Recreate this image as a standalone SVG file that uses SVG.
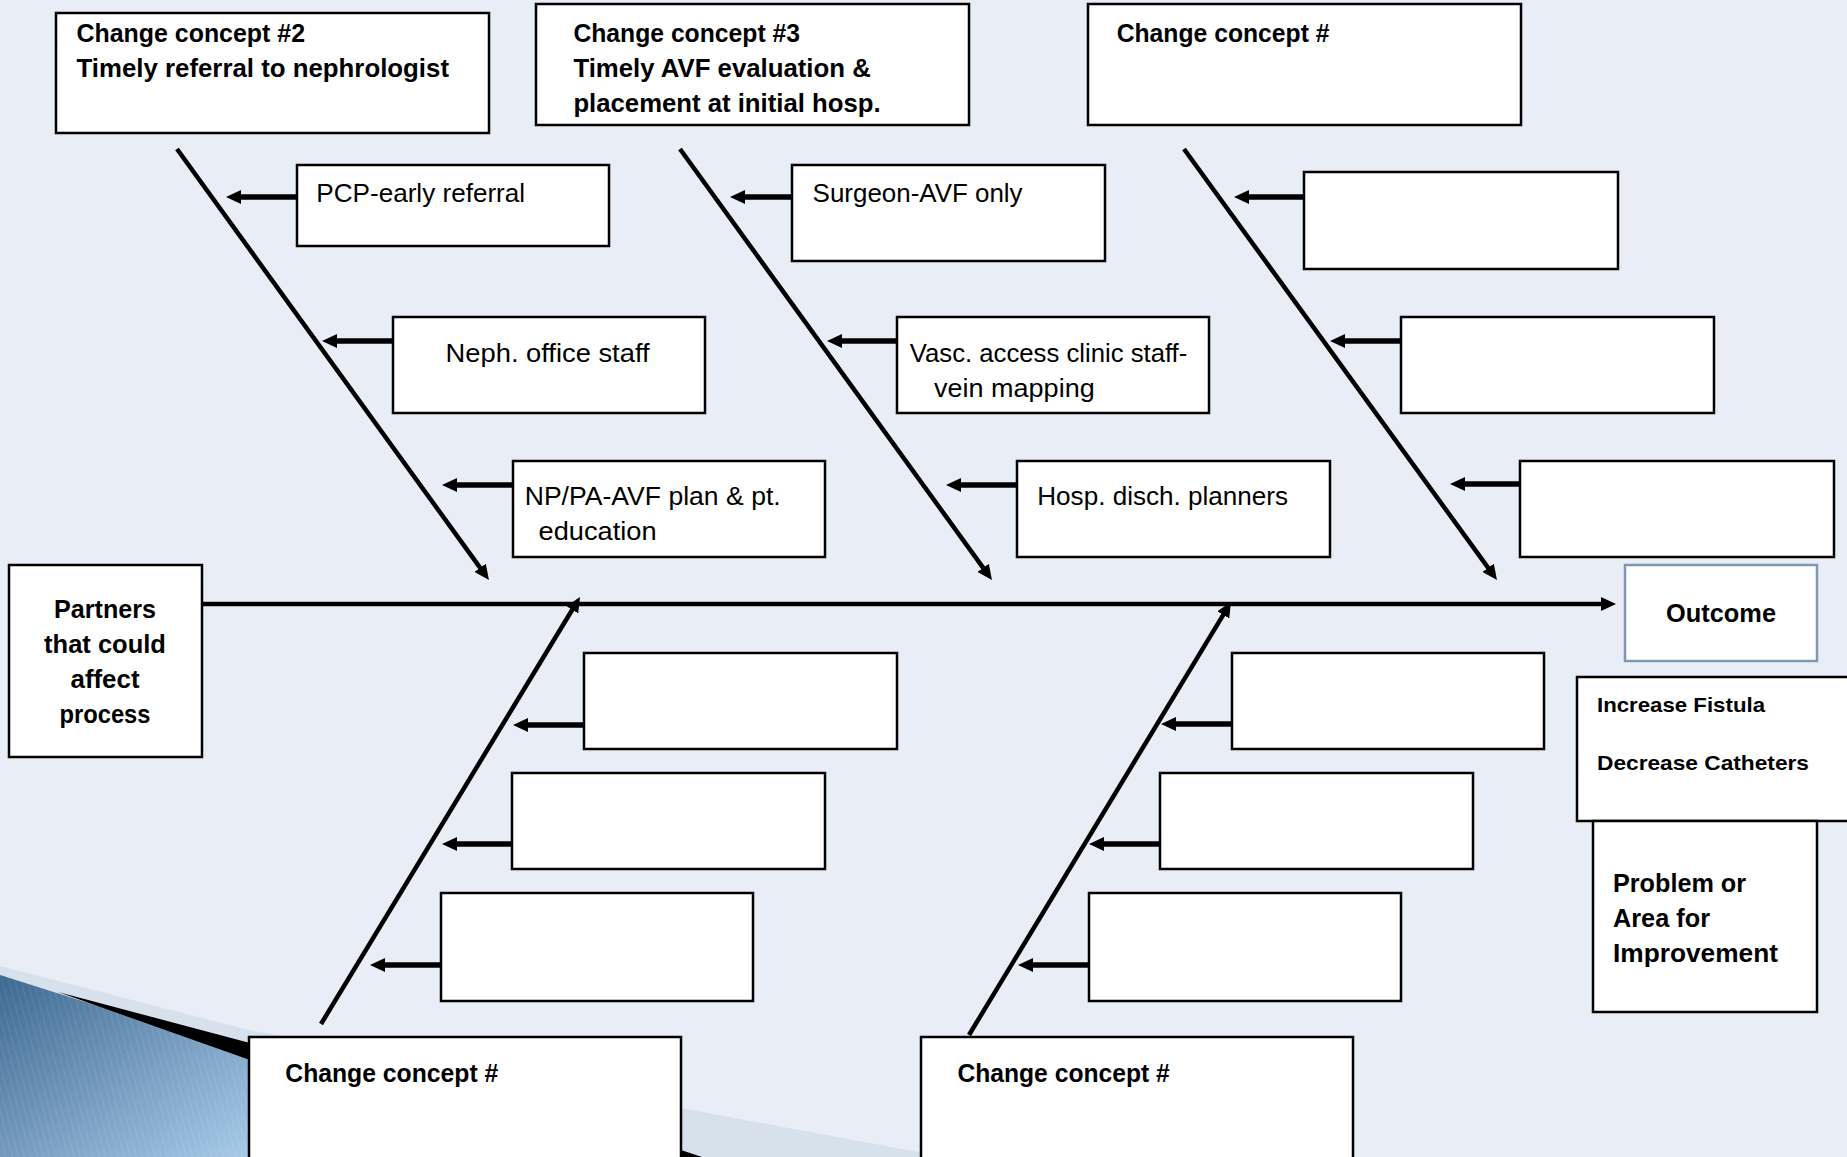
<svg xmlns="http://www.w3.org/2000/svg" width="1847" height="1157" viewBox="0 0 1847 1157">
  <defs>
    <style>
      .box { fill: #ffffff; stroke: #000000; stroke-width: 2.5; }
      .outbox { fill: #ffffff; stroke: #7E98B4; stroke-width: 2.5; }
      .t { font-family: "Liberation Sans", Arial, sans-serif; font-size: 25px; fill: #000000; }
      .b { font-weight: bold; }
      .s { font-size: 21px; }
      .bone { stroke: #000000; stroke-width: 4.5; fill: none; }
      .rib { stroke: #000000; stroke-width: 5.5; fill: none; }
    </style>
    <marker id="ah" viewBox="0 0 15 14" refX="5" refY="7" markerUnits="userSpaceOnUse" markerWidth="15" markerHeight="14" orient="auto">
      <path d="M0,0 L15,7 L0,14 z" fill="#000000"/>
    </marker>
    <linearGradient id="blueGrad" x1="0" y1="0" x2="1" y2="1">
      <stop offset="0" stop-color="#3D6890"/>
      <stop offset="1" stop-color="#A9CCEB"/>
    </linearGradient>
    <pattern id="stripes" width="6" height="20" patternUnits="userSpaceOnUse" patternTransform="rotate(-15)">
      <line x1="0" y1="0" x2="0" y2="20" stroke="#ffffff" stroke-opacity="0.18" stroke-width="1"/>
    </pattern>
  </defs>

  <rect x="0" y="0" width="1847" height="1157" fill="#E9EEF6"/>

  <!-- background decoration -->
  <g id="decoration">
    <polygon points="0,966 249,1030 681,1108 945,1157 0,1157" fill="#D6E1EC"/>
    <polygon points="0,975 262,1058 262,1157 0,1157" fill="url(#blueGrad)"/>
    <polygon points="0,975 262,1058 262,1157 0,1157" fill="url(#stripes)"/>
    <polygon points="58,992 250,1043 250,1060" fill="#000000"/>
    <polygon points="681,1150 702,1157 681,1157" fill="#000000"/>
  </g>

  <!-- connectors -->
  <g id="connectors">
    <line class="bone" x1="202" y1="604" x2="1606" y2="604" marker-end="url(#ah)"/>
    <line class="bone" x1="177" y1="149" x2="483.1" y2="571.9" marker-end="url(#ah)"/>
    <line class="bone" x1="680" y1="149" x2="986.1" y2="571.9" marker-end="url(#ah)"/>
    <line class="bone" x1="1184" y1="149" x2="1491.1" y2="571.9" marker-end="url(#ah)"/>
    <line class="bone" x1="321" y1="1024" x2="574.8" y2="605.5" marker-end="url(#ah)"/>
    <line class="bone" x1="969" y1="1035" x2="1225.8" y2="610.6" marker-end="url(#ah)"/>

    <line class="rib" x1="297" y1="197" x2="236" y2="197" marker-end="url(#ah)"/>
    <line class="rib" x1="393" y1="341" x2="332" y2="341" marker-end="url(#ah)"/>
    <line class="rib" x1="513" y1="485" x2="452" y2="485" marker-end="url(#ah)"/>
    <line class="rib" x1="792" y1="197" x2="740" y2="197" marker-end="url(#ah)"/>
    <line class="rib" x1="897" y1="341" x2="837" y2="341" marker-end="url(#ah)"/>
    <line class="rib" x1="1017" y1="485" x2="956" y2="485" marker-end="url(#ah)"/>
    <line class="rib" x1="1304" y1="197" x2="1244" y2="197" marker-end="url(#ah)"/>
    <line class="rib" x1="1401" y1="341" x2="1340" y2="341" marker-end="url(#ah)"/>
    <line class="rib" x1="1520" y1="484" x2="1460" y2="484" marker-end="url(#ah)"/>
    <line class="rib" x1="584" y1="725" x2="523" y2="725" marker-end="url(#ah)"/>
    <line class="rib" x1="512" y1="844" x2="452" y2="844" marker-end="url(#ah)"/>
    <line class="rib" x1="441" y1="965" x2="380" y2="965" marker-end="url(#ah)"/>
    <line class="rib" x1="1232" y1="724" x2="1171" y2="724" marker-end="url(#ah)"/>
    <line class="rib" x1="1160" y1="844" x2="1099" y2="844" marker-end="url(#ah)"/>
    <line class="rib" x1="1089" y1="965" x2="1028" y2="965" marker-end="url(#ah)"/>
  </g>

  <!-- top change concepts -->
  <g id="cc2">
    <rect class="box" x="56" y="13" width="433" height="120"/>
    <text class="t b" x="76.5" y="42" textLength="228.5" lengthAdjust="spacingAndGlyphs">Change concept #2</text>
    <text class="t b" x="76.5" y="77" textLength="372.5" lengthAdjust="spacingAndGlyphs">Timely referral to nephrologist</text>
  </g>
  <g id="cc3">
    <rect class="box" x="536" y="4" width="433" height="121"/>
    <text class="t b" x="573.4" y="42" textLength="226.6" lengthAdjust="spacingAndGlyphs">Change concept #3</text>
    <text class="t b" x="573.4" y="77" textLength="297.4" lengthAdjust="spacingAndGlyphs">Timely AVF evaluation &amp;</text>
    <text class="t b" x="573.4" y="112" textLength="307.2" lengthAdjust="spacingAndGlyphs">placement at initial hosp.</text>
  </g>
  <g id="cc-top-right">
    <rect class="box" x="1088" y="4" width="433" height="121"/>
    <text class="t b" x="1116.7" y="42" textLength="212.8" lengthAdjust="spacingAndGlyphs">Change concept #</text>
  </g>

  <!-- sub boxes CC2 -->
  <g id="pcp">
    <rect class="box" x="297" y="165" width="312" height="81"/>
    <text class="t" x="316.3" y="202" textLength="208.8" lengthAdjust="spacingAndGlyphs">PCP-early referral</text>
  </g>
  <g id="neph">
    <rect class="box" x="393" y="317" width="312" height="96"/>
    <text class="t" x="445.6" y="362" textLength="204" lengthAdjust="spacingAndGlyphs">Neph. office staff</text>
  </g>
  <g id="nppa">
    <rect class="box" x="513" y="461" width="312" height="96"/>
    <text class="t" x="524.7" y="505" textLength="256" lengthAdjust="spacingAndGlyphs">NP/PA-AVF plan &amp; pt.</text>
    <text class="t" x="538.6" y="540" textLength="118" lengthAdjust="spacingAndGlyphs">education</text>
  </g>

  <!-- sub boxes CC3 -->
  <g id="surgeon">
    <rect class="box" x="792" y="165" width="313" height="96"/>
    <text class="t" x="812.6" y="202" textLength="210" lengthAdjust="spacingAndGlyphs">Surgeon-AVF only</text>
  </g>
  <g id="vasc">
    <rect class="box" x="897" y="317" width="312" height="96"/>
    <text class="t" x="909.8" y="362" textLength="277.5" lengthAdjust="spacingAndGlyphs">Vasc. access clinic staff-</text>
    <text class="t" x="934" y="397" textLength="160.7" lengthAdjust="spacingAndGlyphs">vein mapping</text>
  </g>
  <g id="hosp">
    <rect class="box" x="1017" y="461" width="313" height="96"/>
    <text class="t" x="1037.3" y="505" textLength="250.7" lengthAdjust="spacingAndGlyphs">Hosp. disch. planners</text>
  </g>

  <!-- sub boxes top right -->
  <g id="tr1"><rect class="box" x="1304" y="172" width="314" height="97"/></g>
  <g id="tr2"><rect class="box" x="1401" y="317" width="313" height="96"/></g>
  <g id="tr3"><rect class="box" x="1520" y="461" width="314" height="96"/></g>

  <!-- sub boxes bottom left -->
  <g id="bl1"><rect class="box" x="584" y="653" width="313" height="96"/></g>
  <g id="bl2"><rect class="box" x="512" y="773" width="313" height="96"/></g>
  <g id="bl3"><rect class="box" x="441" y="893" width="312" height="108"/></g>

  <!-- sub boxes bottom right -->
  <g id="br1"><rect class="box" x="1232" y="653" width="312" height="96"/></g>
  <g id="br2"><rect class="box" x="1160" y="773" width="313" height="96"/></g>
  <g id="br3"><rect class="box" x="1089" y="893" width="312" height="108"/></g>

  <!-- bottom change concepts -->
  <g id="cc-bottom-left">
    <rect class="box" x="249" y="1037" width="432" height="130"/>
    <text class="t b" x="285.3" y="1082" textLength="213" lengthAdjust="spacingAndGlyphs">Change concept #</text>
  </g>
  <g id="cc-bottom-right">
    <rect class="box" x="921" y="1037" width="432" height="130"/>
    <text class="t b" x="957.4" y="1081.5" textLength="212.4" lengthAdjust="spacingAndGlyphs">Change concept #</text>
  </g>

  <!-- partners -->
  <g id="partners">
    <rect class="box" x="9" y="565" width="193" height="192"/>
    <text class="t b" x="105" y="618" text-anchor="middle" textLength="102" lengthAdjust="spacingAndGlyphs">Partners</text>
    <text class="t b" x="105" y="653" text-anchor="middle" textLength="121.8" lengthAdjust="spacingAndGlyphs">that could</text>
    <text class="t b" x="105" y="688" text-anchor="middle" textLength="69" lengthAdjust="spacingAndGlyphs">affect</text>
    <text class="t b" x="105" y="723" text-anchor="middle" textLength="91" lengthAdjust="spacingAndGlyphs">process</text>
  </g>

  <!-- outcome -->
  <g id="outcome">
    <rect class="outbox" x="1625" y="565" width="192" height="96"/>
    <text class="t b" x="1721" y="622" text-anchor="middle" textLength="110" lengthAdjust="spacingAndGlyphs">Outcome</text>
  </g>
  <g id="goals">
    <rect class="box" x="1577" y="677" width="300" height="144"/>
    <text class="t b s" x="1597" y="712" textLength="168" lengthAdjust="spacingAndGlyphs">Increase Fistula</text>
    <text class="t b s" x="1597" y="770" textLength="212" lengthAdjust="spacingAndGlyphs">Decrease Catheters</text>
  </g>
  <g id="problem">
    <rect class="box" x="1593" y="821" width="224" height="191"/>
    <text class="t b" x="1613" y="892" textLength="133" lengthAdjust="spacingAndGlyphs">Problem or</text>
    <text class="t b" x="1613" y="927" textLength="97" lengthAdjust="spacingAndGlyphs">Area for</text>
    <text class="t b" x="1613" y="962" textLength="165" lengthAdjust="spacingAndGlyphs">Improvement</text>
  </g>
</svg>
